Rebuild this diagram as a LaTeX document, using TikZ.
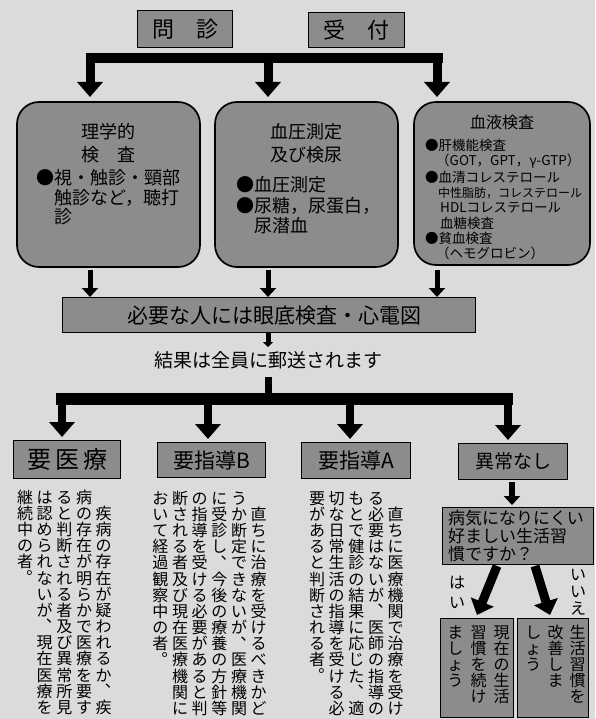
\documentclass[tikz,border=0pt]{standalone}
\usepackage{fontspec}
\setmainfont{Noto Sans CJK JP}
\usetikzlibrary{arrows.meta}
\definecolor{bg}{gray}{0.86}
\definecolor{boxg}{gray}{0.55}
\ExplSyntaxOn
\NewDocumentCommand\vcol{m}{
  \vtop{\offinterlineskip
    \tl_map_inline:nn {#1} {
      \str_case:nnF {##1}
        { {、}{\hbox_to_wd:nn{1.01em}{\vrule width0pt height.88em depth.13em \kern.58em \smash{\raisebox{.6em}{##1}}\hss}}
          {。}{\hbox_to_wd:nn{1.01em}{\vrule width0pt height.88em depth.13em \kern.58em \smash{\raisebox{.6em}{##1}}\hss}} }
        { \hbox_to_wd:nn{1.01em}{\vrule width0pt height.88em depth.13em \hss ##1 \hss} }
    }
  }
}
\ExplSyntaxOff
\begin{document}
\begin{tikzpicture}[x=1pt,y=-1pt,
  topbox/.style={draw, line width=1.7pt, fill=boxg, rounded corners=22pt},
  rbox/.style={draw, line width=1.4pt, fill=boxg},
  bigarrow/.style={line width=9pt, -{Triangle[length=15pt,width=25pt]}},
  smallarrow/.style={line width=5pt, -{Triangle[length=9pt,width=16pt]}},
  txt/.style={inner sep=0pt},
  vtxt/.style={inner sep=0pt, anchor=north east, font=\fontsize{16}{16}\selectfont},
]
\useasboundingbox (0,0) rectangle (595,719);
\fill[bg] (0,0) rectangle (595,719);

% top two boxes
\node[rbox, anchor=north west, minimum width=95pt, minimum height=37pt, font=\fontsize{22}{24}\selectfont] (monshin) at (137,10) {問\quad 診};
\node[rbox, anchor=north west, minimum width=96pt, minimum height=35pt, font=\fontsize{22}{24}\selectfont] (uketsuke) at (308,12) {受\quad 付};

% top bar and drops
\coordinate (tbL) at (85.5,58);
\coordinate (tbR) at (443,58);
\draw[line width=10pt] (tbL) -- (tbR);
\coordinate (d1) at (90,58);
\coordinate (d2) at (268,58);
\coordinate (d3) at (437,58);

% three rounded boxes
\draw[topbox] (17,102) rectangle (200,267);
\node[anchor=north west, minimum width=183pt, minimum height=165pt, inner sep=0pt] (p1) at (17,102) {};
\draw[topbox] (215,102) rectangle (398,267);
\node[anchor=north west, minimum width=183pt, minimum height=165pt, inner sep=0pt] (p2) at (215,102) {};
\draw[topbox] (414,102) rectangle (590,265);
\node[anchor=north west, minimum width=176pt, minimum height=163pt, inner sep=0pt] (p3) at (414,102) {};

\draw[bigarrow, shorten >=5pt] (d1) -- (d1 |- p1.north);
\draw[bigarrow, shorten >=5pt] (d2) -- (d2 |- p2.north);
\draw[bigarrow, shorten >=5pt] (d3) -- (d3 |- p3.north);

% box 1 text
\begin{scope}[every node/.style={txt, font=\fontsize{18}{20}\selectfont}]
\node (b1a) at (108,132) {理学的};
\node (b1b) at (108,155) {検\quad 査};
\node[anchor=west] (b1c) at (36,178) {●視・触診・頸部};
\node[anchor=west] (b1d) at (54,198) {触診など，聴打};
\node[anchor=west] (b1e) at (54,217) {診};
% box 2 text
\node (b2a) at (306,132) {血圧測定};
\node (b2b) at (306,155) {及び検尿};
\node[anchor=west] (b2c) at (236,185) {●血圧測定};
\node[anchor=west] (b2d) at (236,206) {●尿糖，尿蛋白，};
\node[anchor=west] (b2e) at (254,226) {尿潜血};
\end{scope}
% box 3 text
\begin{scope}[every node/.style={txt, font=\fontsize{13.5}{15}\selectfont}]
\node (b3a) at (502,122) {\fontsize{16}{18}\selectfont 血液検査};
\node[anchor=west] (b3b) at (425,145) {●肝機能検査};
\node[anchor=west] (b3c) at (436,161) {（GOT，GPT，γ-GTP）};
\node[anchor=west] (b3d) at (425,177) {●血清コレステロール};
\node[anchor=west, font=\fontsize{12}{14}\selectfont] (b3e) at (438,193) {中性脂肪，コレステロール};
\node[anchor=west] (b3f) at (440,208) {HDLコレステロール};
\node[anchor=west] (b3g) at (440,223) {血糖検査};
\node[anchor=west] (b3h) at (425,238) {●貧血検査};
\node[anchor=west] (b3i) at (436,253) {（ヘモグロビン）};
\end{scope}

% middle bar box
\node[rbox, anchor=north west, minimum width=413pt, minimum height=35pt, inner sep=0pt, font=\fontsize{21}{23}\selectfont] (need) at (62,297) {\hspace{10pt}必要な人には眼底検査・心電図};

\coordinate (a1) at (90,270);
\coordinate (a2) at (268,270);
\coordinate (a3) at (437,270);
\draw[smallarrow] (a1) -- (a1 |- need.north);
\draw[smallarrow] (a2) -- (a2 |- need.north);
\draw[smallarrow] (a3) -- (a3 |- need.north);

\node[txt, font=\fontsize{19}{21}\selectfont] (result) at (268,360) {結果は全員に郵送されます};
\coordinate (stub) at (268,347);
\draw[line width=5pt, -{Triangle[length=5pt,width=10pt]}] (need.south -| stub) -- (stub);

% bottom bar
\coordinate (bbL) at (56,399);
\coordinate (bbR) at (513,399);
\coordinate (trunk) at (268,377);
\draw[line width=7pt] (trunk) -- (trunk |- bbL);
\draw[line width=12pt] (bbL) -- (bbR);
\coordinate (e1) at (62,399);
\coordinate (e2) at (208,399);
\coordinate (e3) at (350,399);
\coordinate (e4) at (508,399);

% four boxes
\node[rbox, anchor=north west, minimum width=107pt, minimum height=38pt, inner sep=0pt, font=\fontsize{24}{26}\selectfont] (r1) at (13,440) {要\hspace{4pt}医\hspace{4pt}療};
\node[rbox, anchor=north west, minimum width=108pt, minimum height=35pt, inner sep=0pt, font=\fontsize{21}{23}\selectfont] (r2) at (157,442) {要指導B};
\node[rbox, anchor=north west, minimum width=109pt, minimum height=36pt, inner sep=0pt, font=\fontsize{21}{23}\selectfont] (r3) at (301,442) {要指導A};
\node[rbox, anchor=north west, minimum width=109pt, minimum height=36pt, inner sep=0pt, font=\fontsize{19}{21}\selectfont] (r4) at (458,443) {異常なし};

\draw[bigarrow, line width=8pt, shorten >=3pt] (e1) -- (e1 |- r1.north);
\draw[bigarrow, line width=8pt, shorten >=3pt] (e2) -- (e2 |- r2.north);
\draw[bigarrow, line width=8pt, shorten >=3pt] (e3) -- (e3 |- r3.north);
\draw[bigarrow, line width=8pt, shorten >=3pt] (e4) -- (e4 |- r4.north);

% vertical texts (columns listed left to right)
\node[vtxt] (v1) at (112,489) {\vcol{継続中の者。}\hspace{3.5pt}\vcol{は認められないが、現在医療を}\hspace{3.5pt}\vcol{ると判断される者及び異常所見}\hspace{3.5pt}\vcol{病の存在が明らかで医療を要す}\hspace{3.5pt}\vcol{　疾病の存在が疑われるか、疾}};
\node[vtxt] (v2) at (267,490) {\vcol{おいて経過観察中の者。}\hspace{3.5pt}\vcol{断される者及び現在医療機関に}\hspace{3.5pt}\vcol{の指導を受ける必要があると判}\hspace{3.5pt}\vcol{に受診し、今後の療養の方針等}\hspace{3.5pt}\vcol{うか断定できないが、医療機関}\hspace{3.5pt}\vcol{　直ちに治療を受けるべきかど}};
\node[vtxt] (v3) at (404,490) {\vcol{要があると判断される者。}\hspace{3.5pt}\vcol{切な日常生活の指導を受ける必}\hspace{3.5pt}\vcol{もとで健診の結果に応じた、適}\hspace{3.5pt}\vcol{る必要はないが、医師の指導の}\hspace{3.5pt}\vcol{　直ちに医療機関で治療を受け}};

% question box
\node[rbox, anchor=north west, minimum width=151pt, minimum height=57pt, inner sep=0pt] (q) at (442,507) {};
\node[txt, anchor=north west, align=left, font=\fontsize{17}{18}\selectfont] (qt) at (448,510) {病気になりにくい\\好ましい生活習\\慣ですか？};
\coordinate (qa) at (512,482);
\draw[smallarrow, line width=6pt, shorten >=2pt] (qa) -- (qa |- q.north);

% yes / no
\node[txt, align=center, font=\fontsize{16}{20}\selectfont] (yes) at (457,592) {は\\い};
\node[txt, align=center, font=\fontsize{16}{17}\selectfont] (no) at (578,592) {い\\い\\え};

\node[rbox, anchor=north west, minimum width=73pt, minimum height=99pt, inner sep=0pt] (y1) at (440,618) {};
\node[rbox, anchor=north west, minimum width=71pt, minimum height=99pt, inner sep=0pt] (n1) at (517,618) {};

\coordinate (ys) at (497,566);
\coordinate (ns) at (535,566);
\coordinate (ye) at (477,615);
\coordinate (ne) at (550,615);
\draw[bigarrow, line width=9pt, -{Triangle[length=14pt,width=24pt]}] (ys) -- (ye);
\draw[bigarrow, line width=9pt, -{Triangle[length=14pt,width=24pt]}] (ns) -- (ne);

\node[vtxt] (yt) at (510,624) {\vcol{ましょう}\hspace{7pt}\vcol{習慣を続け}\hspace{7pt}\vcol{現在の生活}};
\node[vtxt] (nt) at (586,624) {\vcol{しょう}\hspace{6pt}\vcol{改善しま}\hspace{6pt}\vcol{生活習慣を}};
\end{tikzpicture}
\end{document}
